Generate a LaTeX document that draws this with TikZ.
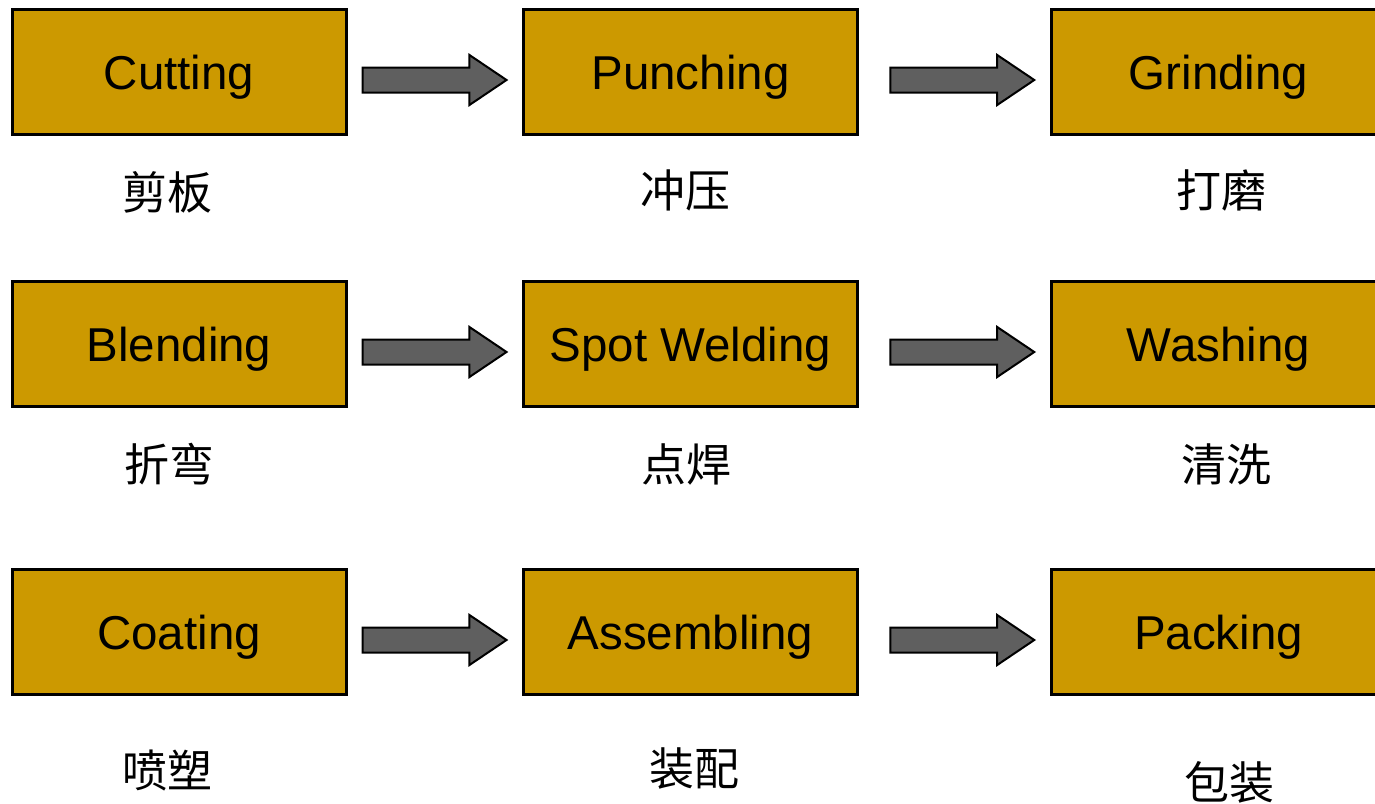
\documentclass[tikz,border=0pt]{standalone}
\usepackage{fontspec}
\setmainfont{Liberation Sans}
\newfontfamily\cjk{Noto Sans CJK SC}
\usetikzlibrary{shapes.arrows,calc}
\definecolor{boxfill}{RGB}{204,153,0}
\definecolor{arrowfill}{RGB}{95,95,95}
\begin{document}
\begin{tikzpicture}[x=1pt,y=-1pt,
  procbox/.style={draw=black, line width=3pt, fill=boxfill, minimum width=334pt, minimum height=125pt, inner sep=0pt, font=\fontsize{47.5}{50}\selectfont, text height=34pt, text depth=0pt},
  cnlabel/.style={font=\cjk\fontsize{45}{50}\selectfont, inner sep=0pt},
  blockarrow/.style={single arrow, draw=black, line width=2pt, fill=arrowfill, minimum height=144pt, minimum width=48pt, single arrow head extend=12.5pt, single arrow tip angle=68, inner xsep=0pt, inner ysep=11.5pt}]
\useasboundingbox (0,0) rectangle (1375,803);
\clip (0,0) rectangle (1375,803);
\fill[white] (0,0) rectangle (1375,803);
% boxes
\node[procbox] (b11) at (179,72) {Cutting};
\node[procbox] (b12) at (690.5,72) {Punching};
\node[procbox] (b13) at (1218.5,72) {Grinding};
\node[procbox] (b21) at (179,344) {Blending};
\node[procbox] (b22) at (690.5,344) {Spot Welding};
\node[procbox] (b23) at (1218.5,344) {Washing};
\node[procbox] (b31) at (179,632) {Coating};
\node[procbox] (b32) at (690.5,632) {Assembling};
\node[procbox] (b33) at (1218.5,632) {Packing};
% arrows
\node[blockarrow] (a11) at ($(b11.east)!0.5!(b12.west)+(-9.5,8)$) {};
\node[blockarrow] (a12) at ($(b12.east)!0.5!(b13.west)+(-1.5,8)$) {};
\node[blockarrow] (a21) at ($(b21.east)!0.5!(b22.west)+(-9.5,8)$) {};
\node[blockarrow] (a22) at ($(b22.east)!0.5!(b23.west)+(-1.5,8)$) {};
\node[blockarrow] (a31) at ($(b31.east)!0.5!(b32.west)+(-9.5,8)$) {};
\node[blockarrow] (a32) at ($(b32.east)!0.5!(b33.west)+(-1.5,8)$) {};
% labels
\node[cnlabel] (l11) at (167,192) {剪板};
\node[cnlabel] (l12) at (685,190) {冲压};
\node[cnlabel] (l13) at (1221,190) {打磨};
\node[cnlabel] (l21) at (169,464) {折弯};
\node[cnlabel] (l22) at (686,464) {点焊};
\node[cnlabel] (l23) at (1226,464) {清洗};
\node[cnlabel] (l31) at (167,771) {喷塑};
\node[cnlabel] (l32) at (694,769) {装配};
\node[cnlabel] (l33) at (1229,782) {包装};
\end{tikzpicture}
\end{document}
